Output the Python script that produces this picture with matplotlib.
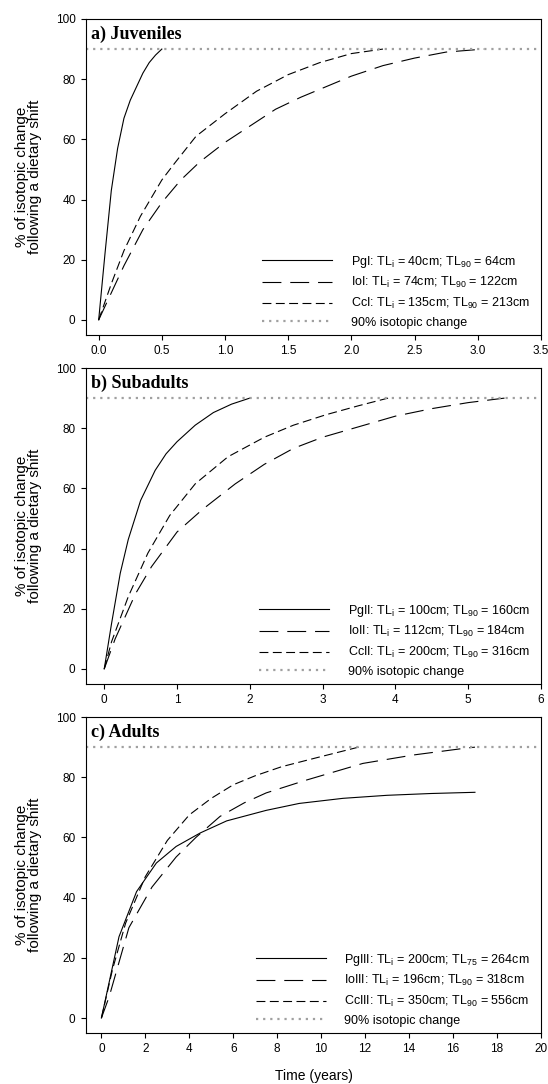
import matplotlib
matplotlib.use('Agg')
import matplotlib.pyplot as plt

plt.rcParams['font.family'] = 'Liberation Sans'
plt.rcParams['mathtext.fontset'] = 'custom'
plt.rcParams['mathtext.rm'] = 'Liberation Sans'
plt.rcParams['mathtext.it'] = 'Liberation Sans:italic'

# a) juveniles
t_pg1 = [0, 0.05, 0.1, 0.15, 0.2, 0.25, 0.3, 0.35, 0.4, 0.45, 0.5]
y_pg1 = [0, 22, 43, 57, 67, 73, 77.5, 82, 85.5, 88, 90]
t_io1 = [0, 0.1, 0.2, 0.35, 0.5, 0.65, 0.8, 1.0, 1.2, 1.4, 1.6, 1.8, 2.0, 2.25, 2.5, 2.75, 3.05]
y_io1 = [0, 9, 18, 30, 39, 46.5, 52.5, 59, 64.5, 70, 74, 77.5, 81, 84.5, 87, 89, 90]
t_cc1 = [0, 0.1, 0.2, 0.33, 0.5, 0.6, 0.77, 1.0, 1.25, 1.5, 1.75, 2.0, 2.25]
y_cc1 = [0, 12, 23, 34.4, 46.5, 52, 61, 68.5, 76, 81.5, 85.5, 88.5, 90]

# b) subadults
t_pg2 = [0, 0.1, 0.22, 0.33, 0.5, 0.7, 0.85, 1.0, 1.25, 1.5, 1.75, 2.0]
y_pg2 = [0, 15, 31.8, 43, 56, 66, 71.5, 75.5, 81, 85.2, 88, 90]
t_io2 = [0, 0.15, 0.43, 0.65, 1.0, 1.35, 1.8, 2.2, 2.6, 3.0, 3.5, 4.0, 4.5, 5.0, 5.5]
y_io2 = [0, 10, 25, 34, 45.5, 53, 61.5, 68, 73.3, 77, 80.5, 84, 86.5, 88.5, 90]
t_cc2 = [0, 0.1, 0.33, 0.6, 0.9, 1.25, 1.7, 2.2, 2.6, 3.05, 3.5, 3.9]
y_cc2 = [0, 9, 24, 38.5, 51, 61.5, 70.5, 77, 81, 84.5, 87.5, 90]

# c) adults
t_pg3 = [0, 0.8, 1.6, 2.5, 3.4, 4.5, 5.7, 7.5, 9, 11, 13, 15, 17]
y_pg3 = [0, 27, 42, 51.5, 57, 61.5, 65.5, 69, 71.3, 73, 74, 74.6, 75]
t_io3 = [0, 0.35, 1.25, 2.3, 3.4, 4.3, 5.4, 6.5, 7.5, 9.3, 11.9, 14.2, 16.5, 17]
y_io3 = [0, 7, 30, 43.5, 53.5, 60, 67, 71.5, 74.8, 79, 84.6, 87.4, 89.6, 90]
t_cc3 = [0, 0.5, 1.1, 2.0, 3.0, 4.0, 5.0, 6.0, 7.0, 8.2, 9.8, 11.7]
y_cc3 = [0, 16, 31.5, 47, 59, 67.5, 73, 77.5, 80.5, 83.5, 86.5, 90]

titles = ['a) Juveniles', 'b) Subadults', 'c) Adults']
labels_a = [r'PgI: TL$_\mathregular{i}$ = 40cm; TL$_\mathregular{90}$ = 64cm',
            r'IoI: TL$_\mathregular{i}$ = 74cm; TL$_\mathregular{90}$ = 122cm',
            r'CcI: TL$_\mathregular{i}$ = 135cm; TL$_\mathregular{90}$ = 213cm']
labels_b = [r'PgII: TL$_\mathregular{i}$ = 100cm; TL$_\mathregular{90}$ = 160cm',
            r'IoII: TL$_\mathregular{i}$ = 112cm; TL$_\mathregular{90}$ = 184cm',
            r'CcII: TL$_\mathregular{i}$ = 200cm; TL$_\mathregular{90}$ = 316cm']
labels_c = [r'PgIII: TL$_\mathregular{i}$ = 200cm; TL$_\mathregular{75}$ = 264cm',
            r'IoIII: TL$_\mathregular{i}$ = 196cm; TL$_\mathregular{90}$ = 318cm',
            r'CcIII: TL$_\mathregular{i}$ = 350cm; TL$_\mathregular{90}$ = 556cm']
xlims = [(-0.1, 3.5), (-0.25, 6), (-0.7, 20)]
xticks = [[0, 0.5, 1, 1.5, 2, 2.5, 3, 3.5], [0, 1, 2, 3, 4, 5, 6], list(range(0, 21, 2))]
xtick_fmt = ['%.1f', '%d', '%d']

panels = [
    [(t_pg1, y_pg1), (t_io1, y_io1), (t_cc1, y_cc1)],
    [(t_pg2, y_pg2), (t_io2, y_io2), (t_cc2, y_cc2)],
    [(t_pg3, y_pg3), (t_io3, y_io3), (t_cc3, y_cc3)],
]
labels = [labels_a, labels_b, labels_c]

styles = ['-', (0, (17, 8)), (0, (8, 4))]
bottoms = [0.691, 0.369, 0.047]

fig = plt.figure(figsize=(5.48, 10.84), dpi=100)
for p in range(3):
    ax = fig.add_axes([0.157, bottoms[p], 0.830, 0.2915])
    for s in range(3):
        t, y = panels[p][s]
        ax.plot(t, y, color='black', linestyle=styles[s], linewidth=0.8,
                label=labels[p][s])
    ax.axhline(90, color='#a0a0a0', linestyle=(0, (1, 2.2)), linewidth=1.6,
               label='90% isotopic change')
    ax.set_xlim(*xlims[p])
    ax.set_ylim(-5, 100)
    ax.set_xticks(xticks[p])
    ax.set_xticklabels([xtick_fmt[p] % v for v in xticks[p]])
    ax.set_yticks([0, 20, 40, 60, 80, 100])
    ax.tick_params(direction='out', length=3.5, width=0.8, labelsize=8.5, pad=4)
    for sp in ax.spines.values():
        sp.set_linewidth(0.8)
    ax.text(0.01, 0.952, titles[p], transform=ax.transAxes, ha='left', va='center',
            fontsize=13, fontweight='bold', family='Liberation Serif')
    ax.text(-0.127, 0.5, '% of isotopic change\nfollowing a dietary shift',
            transform=ax.transAxes, rotation=90, ha='center', va='center',
            fontsize=11, multialignment='center', linespacing=0.95)
    ax.legend(loc='lower right', bbox_to_anchor=(0.976, 0.02), frameon=False,
              fontsize=9, handlelength=5.6, handletextpad=1.5, labelspacing=0.45,
              borderpad=0, borderaxespad=0)
    if p == 2:
        ax.set_xlabel('Time (years)', fontsize=10, labelpad=9.5)

fig.savefig('out.png', dpi=100)
